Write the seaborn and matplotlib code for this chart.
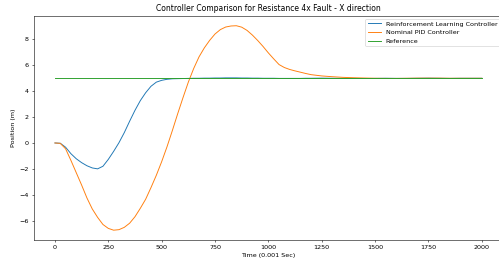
import matplotlib
matplotlib.use("Agg")
import matplotlib.pyplot as plt
import pandas as pd
import seaborn as sns

# --- data ---
TIME = [0, 25, 50, 75, 100, 125, 150, 175, 200, 225, 250, 275, 300, 325, 350, 375,
        400, 425, 450, 475, 500, 525, 550, 575, 600, 625, 650, 675, 700, 725, 750, 775,
        800, 825, 850, 875, 900, 925, 950, 975, 1000, 1025, 1050, 1075, 1100, 1125, 1150,
        1175, 1200, 1250, 1300, 1350, 1400, 1450, 1500, 1550, 1600, 1650, 1700, 1750,
        1800, 1850, 1900, 1950, 2000]

RL_POS = [0.0, -0.02, -0.33, -0.83, -1.22, -1.52, -1.76, -1.93, -2.0, -1.8, -1.27, -0.65,
          0.02, 0.8, 1.68, 2.52, 3.27, 3.88, 4.38, 4.7, 4.84, 4.92, 4.96, 4.97, 4.98, 4.99,
          5.0, 5.0, 5.01, 5.01, 5.02, 5.02, 5.03, 5.03, 5.03, 5.02, 5.02, 5.01, 5.01, 5.0,
          5.0, 5.0, 4.99, 4.99, 4.99, 4.99, 4.99, 5.0, 5.0, 5.01, 5.0, 4.99, 4.99, 4.98,
          4.99, 5.0, 4.99, 4.99, 5.0, 5.01, 5.0, 4.99, 5.0, 5.0, 5.0]

PID_POS = [0.0, -0.03, -0.45, -1.35, -2.3, -3.25, -4.25, -5.1, -5.75, -6.3, -6.6, -6.74,
           -6.7, -6.52, -6.2, -5.7, -5.05, -4.35, -3.45, -2.5, -1.45, -0.3, 0.95, 2.25,
           3.5, 4.7, 5.75, 6.65, 7.35, 7.93, 8.42, 8.76, 8.96, 9.04, 9.06, 8.95, 8.7, 8.34,
           7.92, 7.46, 6.96, 6.5, 6.06, 5.83, 5.68, 5.57, 5.47, 5.37, 5.28, 5.18, 5.12,
           5.07, 5.04, 5.02, 5.0, 4.99, 4.99, 5.0, 5.01, 5.01, 5.01, 5.0, 5.0, 5.0, 5.0]

REF_POS = [5.0] * len(TIME)

SERIES = {
    "Reinforcement Learning Controller": (RL_POS, "#1f77b4"),
    "Nominal PID Controller": (PID_POS, "#ff7f0e"),
    "Reference": (REF_POS, "#2ca02c"),
}

plt.rcParams.update({
    "font.size": 9.1,
    "axes.titlesize": 10.9,
    "axes.labelsize": 9.1,
    "xtick.labelsize": 9.1,
    "ytick.labelsize": 9.1,
    "legend.fontsize": 9.1,
})

fig = plt.figure(figsize=(9.98, 5.32), dpi=50)
ax = fig.add_axes([0.0673, 0.0962, 0.941, 0.8455])

for name, (values, color) in SERIES.items():
    df = pd.DataFrame({"t": TIME, "pos": values})
    sns.lineplot(data=df, x="t", y="pos", ax=ax, color=color, label=name,
                 linewidth=1.36, sort=False)

ax.set_xticks([0, 250, 500, 750, 1000, 1250, 1500, 1750, 2000])
ax.set_xlabel("Time (0.001 Sec)")
ax.set_ylabel("Position (m)")
ax.set_title("Controller Comparison for Resistance 4x Fault - X direction")
ax.legend(loc="upper right")

fig.savefig("out.png", dpi=50)
